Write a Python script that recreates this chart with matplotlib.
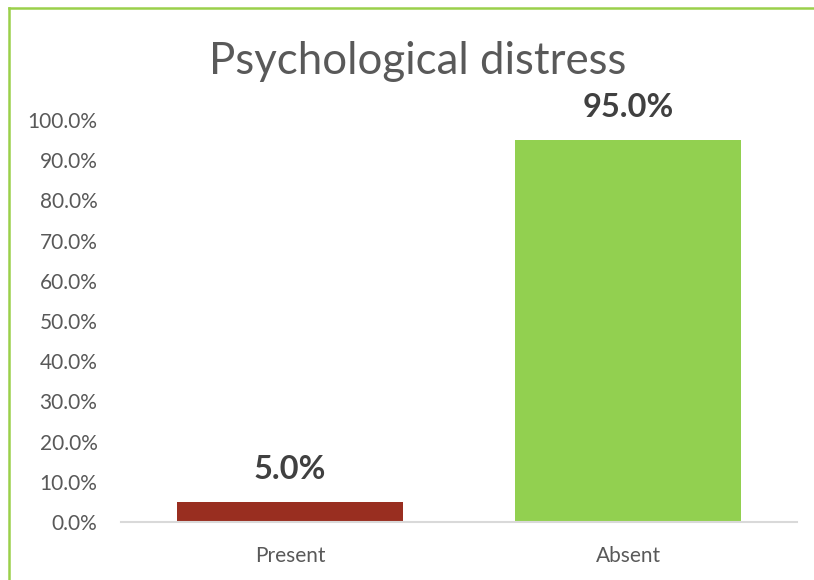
import matplotlib
matplotlib.use("Agg")
import matplotlib.pyplot as plt
from matplotlib.lines import Line2D
from matplotlib.ticker import FuncFormatter

categories = ["Present", "Absent"]
values = [5.0, 95.0]
bar_colors = ["#992E20", "#92D050"]
yticks = [0, 10, 20, 30, 40, 50, 60, 70, 80, 90, 100]

plt.rcParams["font.family"] = ["Lato", "DejaVu Sans"]

W, H = 814, 580
fig = plt.figure(figsize=(W / 100, H / 100), dpi=100)
ax = fig.add_axes([121 / W, 1 - 522 / H, (797 - 121) / W, (522 - 120) / H])

x = range(len(categories))
ax.bar(x, values, width=0.67, color=bar_colors, zorder=2)
for xi, v in zip(x, values):
    ax.text(xi, v + 4.4, f"{v:.1f}%", ha="center", va="bottom",
            fontsize=23.5, fontweight="bold", color="#404040")

ax.set_xlim(-0.5, len(categories) - 0.5)
ax.set_ylim(0, 100)
ax.set_yticks(yticks)
ax.yaxis.set_major_formatter(FuncFormatter(lambda v, _: f"{v:.1f}%"))
ax.set_xticks(list(x))
ax.set_xticklabels(categories)
ax.tick_params(axis="both", length=0, labelsize=15, colors="#595959")
ax.tick_params(axis="x", pad=17)
ax.tick_params(axis="y", pad=17)
for side in ["top", "right", "left"]:
    ax.spines[side].set_visible(False)
ax.spines["bottom"].set_color("#D9D9D9")
ax.spines["bottom"].set_linewidth(1.5)

fig.text(418 / W, 1 - 62 / H, "Psychological distress", ha="center", va="center",
         fontsize=31.5, color="#595959")

# chart frame, left and top edges
edge = "#9BD04A"
fig.add_artist(Line2D([9 / W, 9 / W], [0, 1 - 8 / H], transform=fig.transFigure,
                      color=edge, linewidth=1.8))
fig.add_artist(Line2D([9 / W, 1], [1 - 8 / H, 1 - 8 / H], transform=fig.transFigure,
                      color=edge, linewidth=1.8))

fig.savefig("out.png", dpi=100)
